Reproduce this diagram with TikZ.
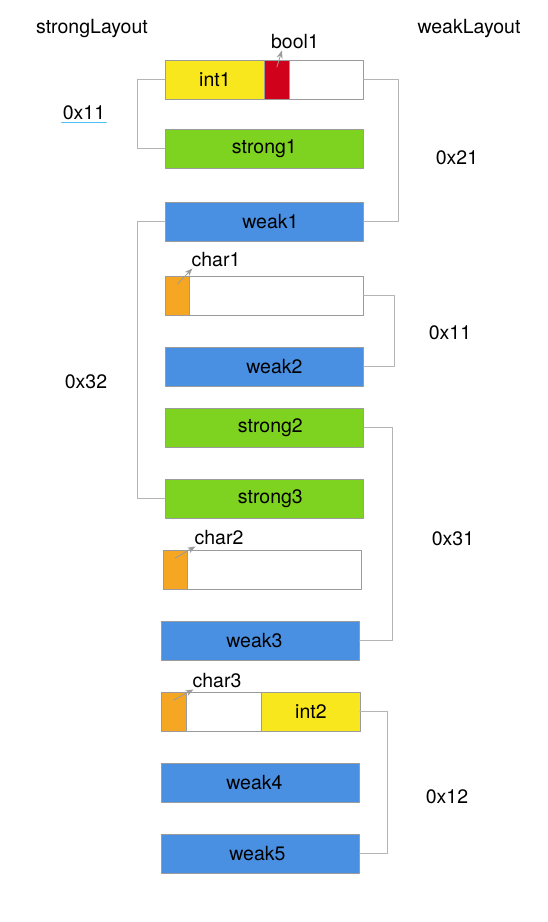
\documentclass[tikz,border=0pt]{standalone}
\usepackage{fontspec}
\setmainfont{TeX Gyre Heros}
\usetikzlibrary{arrows.meta}
\definecolor{fyellow}{HTML}{F8E71C}
\definecolor{fred}{HTML}{D0021B}
\definecolor{fgreen}{HTML}{7ED321}
\definecolor{fblue}{HTML}{4A90E2}
\definecolor{forange}{HTML}{F5A623}
\definecolor{edgegray}{HTML}{9B9B9B}
\definecolor{linkgray}{HTML}{B4B4B4}
\definecolor{spellblue}{HTML}{4FC3F7}
\begin{document}
\begin{tikzpicture}[x=1pt, y=-1pt, line cap=round, line join=round, >={Stealth[length=8pt,width=6pt]},
	font=\fontsize{19.5}{22}\selectfont,
	cell/.style={draw=edgegray, line width=0.8pt, inner sep=0pt, minimum height=39pt, anchor=north west},
	box/.style={cell, minimum width=198pt},
	tag/.style={inner sep=1pt},
	link/.style={draw=linkgray, line width=0.9pt},
	ptr/.style={->, draw=edgegray, fill=edgegray, line width=0.8pt}]
	\useasboundingbox (0,0) rectangle (548,922);
	% plain fields
	\foreach \n/\c/\x/\y/\s in {strong1/fgreen/165/129/0, weak1/fblue/165/202/6, weak2/fblue/165/347/10,
		strong2/fgreen/165/408/6, strong3/fgreen/165/479/6, weak3/fblue/161/621/-6,
		weak4/fblue/161/763/-6, weak5/fblue/161/834/-3}{
		\node[box, fill=\c, label={[xshift=\s pt]center:\n}] (\n) at (\x,\y) {};
	}
	% packed rows
	\node[box, fill=white] (row1) at (165,60) {};
	\node[cell, minimum width=99pt, fill=fyellow] (int1) at (165,60) {int1};
	\node[cell, minimum width=25pt, fill=fred] (bool1) at (264,60) {};
	\node[box, fill=white] (row2) at (165,276) {};
	\node[cell, minimum width=24pt, fill=forange] (char1) at (165,276) {};
	\node[box, fill=white] (row3) at (163,550) {};
	\node[cell, minimum width=24pt, fill=forange] (char2) at (163,550) {};
	\node[box, fill=white] (row4) at (161,692) {};
	\node[cell, minimum width=25pt, fill=forange] (char3) at (161,692) {};
	\node[cell, minimum width=99pt, fill=fyellow] (int2) at (261,692) {int2};
	% small field names
	\node[tag] (lbool1) at (295,42) {bool1};
	\node[tag] (lchar1) at (216,260) {char1};
	\node[tag] (lchar2) at (219,538) {char2};
	\node[tag] (lchar3) at (217,681) {char3};
	\draw[ptr] ([yshift=-7pt]bool1.north) -- ([xshift=12pt]lbool1.south west);
	\foreach \t in {1,2,3}{
		\draw[ptr] ([yshift=-8pt]char\t.north) -- ([xshift=2pt]lchar\t.south west);
	}
	% layouts
	\node[tag] (strongL) at (92,29) {strongLayout};
	\node[tag] (weakL) at (469,29) {weakLayout};
	\node[tag] (s11) at (84,113) {0x11};
	\node[tag] (s32) at (86,382) {0x32};
	\node[tag] (w21) at (457,158) {0x21};
	\node[tag] (w11) at (450,333) {0x11};
	\node[tag] (w31) at (453,539) {0x31};
	\node[tag] (w12) at (447,797) {0x12};
	\draw[spellblue, line width=1.2pt] ([yshift=-1pt]s11.south west) -- ([yshift=-1pt]s11.south east);
	\draw[link] (row1.west) -- ++(-28,0) |- (strong1.west);
	\draw[link] (weak1.west) -- ++(-28,0) |- (strong3.west);
	\draw[link] (row1.east) -- ++(35,0) |- (weak1.east);
	\draw[link] (row2.east) -- ++(31,0) |- (weak2.east);
	\draw[link] (strong2.east) -- ++(29,0) |- (weak3.east);
	\draw[link] (row4.east) -- ++(28,0) |- (weak5.east);
\end{tikzpicture}
\end{document}
